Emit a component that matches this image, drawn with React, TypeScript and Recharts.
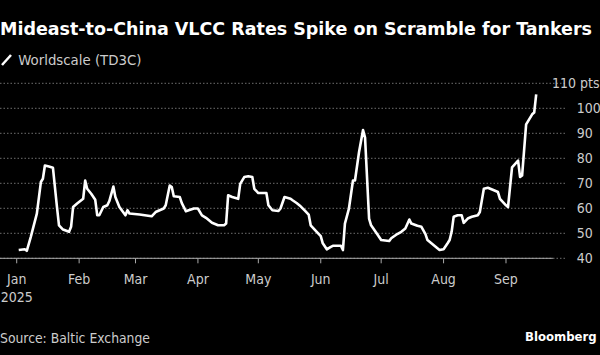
import { CartesianGrid, Line, LineChart, ReferenceLine, XAxis, YAxis } from "recharts";

const dates = [
  "2025-01-02", "2025-01-05", "2025-01-06", "2025-01-08", "2025-01-11", "2025-01-13", "2025-01-14",
  "2025-01-15", "2025-01-17", "2025-01-19", "2025-01-21", "2025-01-22", "2025-01-24", "2025-01-27",
  "2025-01-28", "2025-01-29", "2025-01-31", "2025-02-03", "2025-02-04", "2025-02-05", "2025-02-07",
  "2025-02-09", "2025-02-10", "2025-02-11", "2025-02-13", "2025-02-15", "2025-02-16", "2025-02-18",
  "2025-02-19", "2025-02-21", "2025-02-24", "2025-02-25", "2025-02-26", "2025-03-03", "2025-03-09",
  "2025-03-11", "2025-03-15", "2025-03-16", "2025-03-18", "2025-03-19", "2025-03-20", "2025-03-23",
  "2025-03-24", "2025-03-25", "2025-03-26", "2025-03-30", "2025-04-01", "2025-04-03", "2025-04-05",
  "2025-04-08", "2025-04-11", "2025-04-14", "2025-04-15", "2025-04-16", "2025-04-18", "2025-04-21",
  "2025-04-22", "2025-04-24", "2025-04-26", "2025-04-28", "2025-04-29", "2025-05-01", "2025-05-05",
  "2025-05-06", "2025-05-08", "2025-05-11", "2025-05-12", "2025-05-14", "2025-05-17", "2025-05-18",
  "2025-05-20", "2025-05-22", "2025-05-24", "2025-05-26", "2025-05-27", "2025-05-30", "2025-06-01",
  "2025-06-02", "2025-06-04", "2025-06-06", "2025-06-07", "2025-06-11", "2025-06-12", "2025-06-13",
  "2025-06-15", "2025-06-17", "2025-06-18", "2025-06-20", "2025-06-22", "2025-06-23", "2025-06-25",
  "2025-06-26", "2025-06-29", "2025-07-01", "2025-07-05", "2025-07-06", "2025-07-09", "2025-07-11",
  "2025-07-13", "2025-07-15", "2025-07-16", "2025-07-19", "2025-07-21", "2025-07-23", "2025-07-24",
  "2025-07-27", "2025-07-30", "2025-08-01", "2025-08-03", "2025-08-04", "2025-08-05", "2025-08-06",
  "2025-08-08", "2025-08-10", "2025-08-11", "2025-08-13", "2025-08-15", "2025-08-18", "2025-08-19",
  "2025-08-21", "2025-08-23", "2025-08-26", "2025-08-28", "2025-08-29", "2025-09-01", "2025-09-02",
  "2025-09-04", "2025-09-07", "2025-09-08", "2025-09-09", "2025-09-11", "2025-09-14", "2025-09-15",
  "2025-09-16",
];

const worldscale = [
  43.3, 43.6, 43.0, 48.6, 57.9, 70.5, 71.8,
  77.1, 76.7, 76.2, 60.5, 53.2, 51.5, 50.6,
  52.6, 60.5, 61.9, 63.8, 71.1, 67.8, 65.8,
  63.4, 57.2, 57.2, 60.5, 61.2, 62.9, 68.7,
  64.5, 60.5, 57.2, 59.2, 57.9, 57.5, 56.8,
  58.5, 59.9, 61.2, 69.1, 68.5, 64.8, 64.5,
  62.1, 60.5, 58.8, 59.9, 59.9, 57.2, 56.2,
  54.2, 53.2, 53.2, 53.9, 65.2, 64.5, 63.8,
  69.8, 72.5, 72.8, 72.5, 67.8, 66.1, 66.1,
  61.2, 59.2, 58.9, 59.9, 64.5, 63.8, 63.2,
  62.1, 60.8, 59.2, 57.5, 53.2, 50.6, 48.9,
  46.0, 43.6, 44.6, 45.0, 45.0, 43.3, 53.9,
  59.9, 71.1, 71.1, 82.4, 91.3, 88.3, 55.9,
  53.2, 49.7, 47.3, 46.9, 48.0, 49.7, 50.6,
  51.9, 55.5, 53.9, 53.0, 52.6, 49.7, 47.3,
  45.3, 43.3, 43.6, 46.0, 47.3, 50.6, 56.6,
  57.2, 57.2, 54.2, 55.9, 56.6, 57.2, 58.5,
  67.8, 68.2, 67.2, 66.5, 63.8, 61.2, 60.5,
  76.4, 79.1, 72.5, 73.1, 93.6, 97.6, 98.3,
  105.6,
];

const monthLabels = ["Jan", "Feb", "Mar", "Apr", "May", "Jun", "Jul", "Aug", "Sep"];
const yTicks = [40, 50, 60, 70, 80, 90, 100, 110];

const FONT = "'DejaVu Sans Condensed', 'Liberation Sans Narrow', 'DejaVu Sans', sans-serif";
const LABEL = "#cccccc";

const dayOf = (s: string) => (Date.parse(s) - Date.parse("2025-01-01")) / 86400000;

const data = dates.map((d, i) => ({ day: dayOf(d), value: worldscale[i] }));
const monthTicks = monthLabels.map((_, i) => (Date.UTC(2025, i, 1) - Date.UTC(2025, 0, 1)) / 86400000);

function MonthTick(props: any) {
  const { x, payload } = props;
  const i = monthTicks.indexOf(payload.value);
  return (
    <g>
      <text x={x} y={284} textAnchor="middle" fill={LABEL} fontSize={14} fontFamily={FONT}>
        {monthLabels[i]}
      </text>
      {i === 0 && (
        <text x={x} y={301.7} textAnchor="middle" fill={LABEL} fontSize={14} fontFamily={FONT}>
          2025
        </text>
      )}
    </g>
  );
}

function ValueTick(props: any) {
  const { y, payload } = props;
  const top = payload.value === 110;
  return (
    <text
      x={top ? 599.5 : 576.7}
      y={y}
      dy="0.36em"
      textAnchor={top ? "end" : "start"}
      fill={LABEL}
      fontSize={14}
      fontFamily={FONT}
    >
      {top ? "110 pts" : payload.value}
    </text>
  );
}

export default function App() {
  return (
    <div style={{ position: "absolute", left: 0, top: 0, width: 600, height: 355, background: "#000", overflow: "hidden" }}>
      <LineChart
        width={600}
        height={355}
        data={data}
        margin={{ top: 83.3, right: 0, bottom: 66.7, left: 0 }}
      >
        <CartesianGrid vertical={false} stroke="#6e6e6e" strokeDasharray="1.5 2" />
        <XAxis
          dataKey="day"
          type="number"
          domain={[-8.3, 272.8]}
          ticks={monthTicks}
          height={30}
          axisLine={false}
          tickLine={{ stroke: "#aaaaaa" }}
          tickSize={5}
          tick={<MonthTick />}
          interval={0}
        />
        <YAxis
          orientation="right"
          domain={[40, 110]}
          ticks={yTicks}
          width={34}
          axisLine={false}
          tickLine={false}
          tick={<ValueTick />}
          interval={0}
        />
        <ReferenceLine
          segment={[{ x: -8.3, y: 40 }, { x: 266.3, y: 40 }]}
          stroke="#aaaaaa"
          strokeWidth={1}
        />
        <Line
          type="linear"
          dataKey="value"
          stroke="#ffffff"
          strokeWidth={2.6}
          dot={false}
          strokeLinejoin="round"
          isAnimationActive={false}
        />
      </LineChart>
      <svg width={600} height={355} style={{ position: "absolute", left: 0, top: 0, pointerEvents: "none" }}>
        <text
          x={0}
          y={35}
          fill="#ffffff"
          fontSize={18.5}
          fontWeight="bold"
          fontFamily={FONT}
          textLength={592}
          lengthAdjust="spacingAndGlyphs"
        >
          Mideast-to-China VLCC Rates Spike on Scramble for Tankers
        </text>
        <line x1={2} y1={65} x2={11} y2={55} stroke="#ffffff" strokeWidth={2.5} />
        <text x={18.3} y={65} fill={LABEL} fontSize={14.8} fontFamily={FONT}>
          Worldscale (TD3C)
        </text>
        <text x={0} y={343.3} fill={LABEL} fontSize={13.8} fontFamily={FONT}>
          Source: Baltic Exchange
        </text>
        <text x={596.7} y={340.7} textAnchor="end" fill="#ffffff" fontSize={13} fontWeight="bold" fontFamily={FONT}>
          Bloomberg
        </text>
      </svg>
    </div>
  );
}
